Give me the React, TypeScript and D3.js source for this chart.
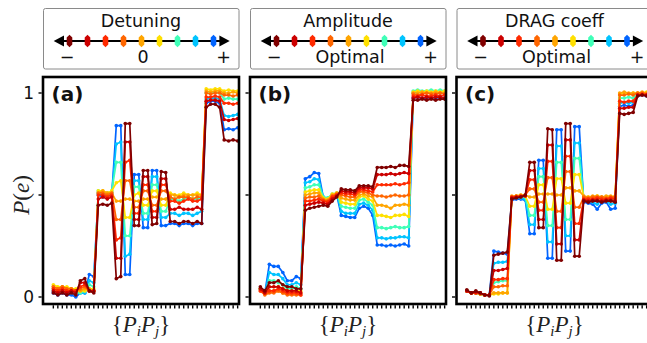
import * as d3 from 'd3';

// series colours, from "−" (dark red) to "+" (blue)
const colors = ['#800000', '#cc0000', '#ff2a00', '#ff6600', '#ffa500', '#ffe000', '#40ffb8', '#00c4ff', '#0064ff'];

// Detuning sweep, 42 pulse pairs, one row per colour
const detuning: number[][] = [
  [0.02, 0.01, 0.02, 0.01, 0.02, 0.01, 0.08, 0.09, 0.03, 0.02, 0.45, 0.455, 0.45, 0.46, 0.09, 0.10, 0.85, 0.85, 0.35, 0.35, 0.62, 0.62, 0.355, 0.36, 0.615, 0.61, 0.37, 0.37, 0.36, 0.37, 0.37, 0.36, 0.37, 0.36, 0.93, 0.945, 0.945, 0.93, 0.77, 0.765, 0.77, 0.765],
  [0.03, 0.02, 0.03, 0.02, 0.03, 0.02, 0.07, 0.07, 0.03, 0.03, 0.48, 0.49, 0.48, 0.49, 0.19, 0.19, 0.76, 0.76, 0.38, 0.38, 0.59, 0.59, 0.39, 0.39, 0.58, 0.58, 0.43, 0.43, 0.44, 0.43, 0.43, 0.43, 0.44, 0.43, 0.96, 0.965, 0.965, 0.96, 0.87, 0.865, 0.87, 0.875],
  [0.04, 0.03, 0.04, 0.03, 0.03, 0.03, 0.05, 0.06, 0.03, 0.03, 0.50, 0.50, 0.49, 0.50, 0.28, 0.29, 0.66, 0.67, 0.41, 0.41, 0.55, 0.55, 0.42, 0.42, 0.55, 0.55, 0.47, 0.47, 0.46, 0.47, 0.48, 0.47, 0.47, 0.48, 0.98, 0.98, 0.985, 0.98, 0.95, 0.95, 0.945, 0.95],
  [0.05, 0.04, 0.05, 0.04, 0.04, 0.03, 0.04, 0.05, 0.03, 0.03, 0.51, 0.51, 0.50, 0.51, 0.38, 0.38, 0.57, 0.57, 0.44, 0.44, 0.52, 0.52, 0.45, 0.45, 0.52, 0.52, 0.49, 0.48, 0.49, 0.49, 0.49, 0.48, 0.49, 0.49, 1.0, 0.995, 1.0, 1.0, 0.99, 0.99, 0.985, 0.99],
  [0.05, 0.04, 0.05, 0.04, 0.04, 0.03, 0.03, 0.04, 0.04, 0.03, 0.51, 0.52, 0.51, 0.51, 0.47, 0.47, 0.48, 0.48, 0.47, 0.47, 0.48, 0.48, 0.49, 0.49, 0.48, 0.48, 0.50, 0.50, 0.49, 0.50, 0.50, 0.50, 0.50, 0.50, 1.01, 1.005, 1.01, 1.01, 1.0, 1.0, 1.005, 1.0],
  [0.06, 0.05, 0.05, 0.05, 0.04, 0.04, 0.03, 0.03, 0.04, 0.04, 0.52, 0.52, 0.51, 0.52, 0.56, 0.57, 0.39, 0.39, 0.50, 0.51, 0.45, 0.45, 0.52, 0.52, 0.45, 0.45, 0.51, 0.50, 0.50, 0.51, 0.50, 0.50, 0.51, 0.50, 1.02, 1.015, 1.02, 1.02, 1.01, 1.015, 1.01, 1.01],
  [0.04, 0.03, 0.04, 0.03, 0.03, 0.02, 0.02, 0.03, 0.06, 0.05, 0.52, 0.51, 0.51, 0.52, 0.66, 0.66, 0.30, 0.30, 0.54, 0.54, 0.41, 0.41, 0.55, 0.55, 0.42, 0.42, 0.48, 0.48, 0.47, 0.48, 0.49, 0.48, 0.48, 0.49, 1.0, 1.0, 1.005, 1.0, 0.97, 0.975, 0.97, 0.97],
  [0.03, 0.02, 0.03, 0.02, 0.02, 0.02, 0.02, 0.02, 0.08, 0.07, 0.51, 0.50, 0.50, 0.51, 0.75, 0.76, 0.20, 0.21, 0.57, 0.57, 0.38, 0.38, 0.59, 0.59, 0.39, 0.39, 0.41, 0.41, 0.40, 0.41, 0.41, 0.40, 0.41, 0.42, 0.97, 0.975, 0.975, 0.97, 0.89, 0.885, 0.89, 0.895],
  [0.02, 0.01, 0.02, 0.01, 0.01, 0.00, 0.02, 0.02, 0.11, 0.10, 0.50, 0.49, 0.50, 0.50, 0.84, 0.84, 0.11, 0.11, 0.60, 0.60, 0.34, 0.34, 0.62, 0.62, 0.35, 0.35, 0.36, 0.36, 0.35, 0.36, 0.36, 0.35, 0.36, 0.36, 0.95, 0.96, 0.96, 0.95, 0.82, 0.825, 0.82, 0.83],
];

// Amplitude sweep
const amplitude: number[][] = [
  [0.05, 0.03, 0.07, 0.07, 0.08, 0.06, 0.05, 0.05, 0.04, 0.04, 0.425, 0.435, 0.44, 0.445, 0.45, 0.445, 0.47, 0.49, 0.53, 0.525, 0.525, 0.52, 0.545, 0.545, 0.545, 0.54, 0.635, 0.635, 0.635, 0.64, 0.635, 0.645, 0.645, 0.64, 0.965, 0.965, 0.97, 0.965, 0.97, 0.965, 0.97, 0.97],
  [0.04, 0.02, 0.05, 0.05, 0.05, 0.04, 0.03, 0.03, 0.03, 0.02, 0.45, 0.455, 0.46, 0.465, 0.46, 0.455, 0.48, 0.495, 0.52, 0.515, 0.515, 0.51, 0.535, 0.535, 0.535, 0.53, 0.60, 0.60, 0.60, 0.605, 0.60, 0.605, 0.61, 0.605, 0.975, 0.98, 0.975, 0.98, 0.975, 0.98, 0.98, 0.975],
  [0.03, 0.02, 0.03, 0.03, 0.04, 0.03, 0.02, 0.02, 0.02, 0.01, 0.47, 0.47, 0.475, 0.48, 0.47, 0.465, 0.49, 0.50, 0.51, 0.505, 0.505, 0.50, 0.525, 0.525, 0.52, 0.515, 0.55, 0.55, 0.55, 0.55, 0.555, 0.55, 0.555, 0.56, 0.985, 0.985, 0.99, 0.985, 0.985, 0.99, 0.985, 0.99],
  [0.03, 0.01, 0.02, 0.02, 0.03, 0.02, 0.01, 0.01, 0.01, 0.01, 0.485, 0.49, 0.49, 0.495, 0.475, 0.47, 0.495, 0.505, 0.50, 0.495, 0.49, 0.49, 0.515, 0.515, 0.51, 0.50, 0.495, 0.495, 0.49, 0.495, 0.50, 0.495, 0.495, 0.50, 0.995, 0.99, 0.995, 1.0, 0.995, 0.995, 1.0, 0.995],
  [0.04, 0.02, 0.03, 0.03, 0.03, 0.02, 0.02, 0.02, 0.02, 0.02, 0.50, 0.505, 0.51, 0.51, 0.48, 0.475, 0.50, 0.51, 0.485, 0.48, 0.475, 0.475, 0.50, 0.505, 0.495, 0.49, 0.45, 0.45, 0.445, 0.435, 0.45, 0.45, 0.455, 0.45, 1.0, 1.0, 1.005, 1.0, 1.0, 1.005, 1.0, 1.0],
  [0.04, 0.02, 0.05, 0.05, 0.05, 0.04, 0.03, 0.03, 0.03, 0.03, 0.515, 0.52, 0.525, 0.525, 0.485, 0.48, 0.505, 0.51, 0.465, 0.46, 0.455, 0.455, 0.49, 0.495, 0.48, 0.47, 0.40, 0.40, 0.395, 0.39, 0.40, 0.40, 0.405, 0.395, 1.005, 1.01, 1.005, 1.01, 1.005, 1.01, 1.005, 1.01],
  [0.04, 0.02, 0.08, 0.08, 0.07, 0.06, 0.04, 0.04, 0.05, 0.04, 0.535, 0.54, 0.55, 0.55, 0.49, 0.485, 0.505, 0.51, 0.445, 0.44, 0.435, 0.435, 0.475, 0.48, 0.465, 0.45, 0.34, 0.34, 0.335, 0.34, 0.345, 0.34, 0.34, 0.345, 1.01, 1.015, 1.01, 1.01, 1.015, 1.01, 1.015, 1.01],
  [0.04, 0.02, 0.12, 0.11, 0.11, 0.09, 0.06, 0.06, 0.07, 0.06, 0.56, 0.565, 0.58, 0.575, 0.49, 0.485, 0.50, 0.505, 0.42, 0.41, 0.41, 0.41, 0.455, 0.46, 0.45, 0.425, 0.29, 0.29, 0.285, 0.29, 0.29, 0.295, 0.295, 0.29, 1.0, 1.005, 1.0, 1.005, 1.0, 1.005, 1.0, 1.0],
  [0.04, 0.02, 0.16, 0.15, 0.15, 0.12, 0.08, 0.08, 0.10, 0.09, 0.58, 0.59, 0.61, 0.605, 0.49, 0.48, 0.495, 0.50, 0.40, 0.395, 0.39, 0.39, 0.435, 0.445, 0.435, 0.40, 0.255, 0.255, 0.25, 0.255, 0.25, 0.255, 0.26, 0.25, 0.975, 0.98, 0.975, 0.975, 0.98, 0.975, 0.98, 0.975],
];

// DRAG coefficient sweep
const dragCoeff: number[][] = [
  [0.035, 0.02, 0.03, 0.02, 0.01, 0.005, 0.205, 0.21, 0.215, 0.22, 0.48, 0.485, 0.49, 0.50, 0.66, 0.66, 0.34, 0.34, 0.825, 0.82, 0.18, 0.18, 0.85, 0.85, 0.20, 0.20, 0.47, 0.465, 0.47, 0.47, 0.465, 0.47, 0.47, 0.465, 0.90, 0.895, 0.90, 0.905, 0.985, 0.99, 0.985, 0.99],
  [0.03, 0.02, 0.025, 0.02, 0.01, 0.01, 0.13, 0.13, 0.135, 0.14, 0.485, 0.49, 0.49, 0.495, 0.62, 0.62, 0.38, 0.38, 0.745, 0.745, 0.26, 0.26, 0.77, 0.77, 0.28, 0.28, 0.475, 0.47, 0.475, 0.475, 0.47, 0.475, 0.475, 0.47, 0.925, 0.925, 0.93, 0.93, 0.99, 0.99, 0.99, 0.995],
  [0.03, 0.02, 0.02, 0.02, 0.01, 0.01, 0.085, 0.085, 0.09, 0.09, 0.49, 0.49, 0.495, 0.495, 0.575, 0.575, 0.425, 0.425, 0.665, 0.665, 0.34, 0.34, 0.69, 0.69, 0.36, 0.36, 0.48, 0.48, 0.48, 0.485, 0.48, 0.48, 0.485, 0.48, 0.96, 0.955, 0.96, 0.96, 0.99, 0.995, 0.99, 0.995],
  [0.03, 0.02, 0.02, 0.015, 0.01, 0.01, 0.05, 0.05, 0.055, 0.055, 0.49, 0.495, 0.495, 0.50, 0.53, 0.53, 0.465, 0.465, 0.585, 0.585, 0.42, 0.42, 0.615, 0.615, 0.44, 0.44, 0.49, 0.485, 0.49, 0.49, 0.49, 0.485, 0.49, 0.49, 0.99, 0.99, 0.995, 0.99, 1.0, 1.0, 0.995, 1.0],
  [0.03, 0.02, 0.02, 0.015, 0.01, 0.01, 0.02, 0.02, 0.02, 0.02, 0.495, 0.495, 0.50, 0.50, 0.49, 0.49, 0.505, 0.505, 0.505, 0.505, 0.50, 0.50, 0.535, 0.535, 0.52, 0.52, 0.495, 0.49, 0.495, 0.495, 0.49, 0.495, 0.495, 0.49, 1.0, 1.005, 1.0, 1.0, 1.0, 1.005, 1.0, 1.005],
  [0.03, 0.02, 0.02, 0.015, 0.01, 0.01, 0.015, 0.015, 0.02, 0.02, 0.49, 0.495, 0.50, 0.495, 0.445, 0.445, 0.55, 0.55, 0.43, 0.43, 0.58, 0.58, 0.46, 0.46, 0.60, 0.60, 0.49, 0.49, 0.49, 0.495, 0.49, 0.49, 0.49, 0.495, 0.995, 1.0, 0.995, 1.0, 1.0, 1.0, 1.005, 1.0],
  [0.03, 0.02, 0.02, 0.015, 0.01, 0.01, 0.07, 0.075, 0.08, 0.08, 0.485, 0.49, 0.49, 0.49, 0.40, 0.40, 0.59, 0.59, 0.35, 0.35, 0.66, 0.66, 0.38, 0.38, 0.68, 0.68, 0.485, 0.48, 0.475, 0.48, 0.485, 0.48, 0.475, 0.48, 0.975, 0.975, 0.98, 0.975, 0.995, 0.995, 1.0, 0.995],
  [0.03, 0.02, 0.02, 0.015, 0.01, 0.01, 0.165, 0.17, 0.17, 0.175, 0.48, 0.485, 0.485, 0.48, 0.355, 0.355, 0.63, 0.63, 0.27, 0.27, 0.74, 0.74, 0.30, 0.30, 0.755, 0.755, 0.475, 0.47, 0.465, 0.455, 0.475, 0.47, 0.455, 0.46, 0.95, 0.955, 0.95, 0.955, 0.99, 0.995, 0.99, 0.995],
  [0.03, 0.02, 0.02, 0.015, 0.01, 0.01, 0.225, 0.22, 0.215, 0.21, 0.475, 0.48, 0.48, 0.475, 0.31, 0.31, 0.67, 0.67, 0.19, 0.19, 0.82, 0.82, 0.225, 0.225, 0.835, 0.835, 0.465, 0.46, 0.455, 0.43, 0.46, 0.465, 0.43, 0.435, 0.935, 0.94, 0.935, 0.94, 0.985, 0.99, 0.985, 0.99],
];

const panelLetters = ['(a)', '(b)', '(c)'];
const legendTitles = ['Detuning', 'Amplitude', 'DRAG coeff'];
const legendMid = ['0', 'Optimal', 'Optimal'];
const yTicks = [0, 0.5, 1];
const yTickLabels = ['0', '', '1'];

const W = 647;
const H = 343;
const panelLeft = [43, 250, 456.5];
const panelW = 196;
const top = 77;
const bottom = 304;
const sans = '"DejaVu Sans", sans-serif';
const serif = '"Liberation Serif", "DejaVu Serif", serif';

const y = d3.scaleLinear().domain([0, 1]).range([297, 93]);

function Legend({ left, title, mid }: { left: number; title: string; mid: string }) {
  const ly = 41;
  const mx = d3.scaleLinear().domain([0, colors.length - 1]).range([left + 26.5, left + 170.5]);
  const hex = 'M0,-6.2L2.8,-3.6L2.8,3.6L0,6.2L-2.8,3.6L-2.8,-3.6Z';
  return (
    <g>
      <rect x={left + 0.5} y={8.5} width={panelW - 0.5} height={60.5} rx={2} fill="white" stroke="#8a8a8a" strokeWidth={1} />
      <text x={left + 98} y={26.5} textAnchor="middle" fontFamily={sans} fontSize={17.5} fill="#111">{title}</text>
      <line x1={left + 17} x2={left + 180} y1={ly} y2={ly} stroke="black" strokeWidth={2} />
      <path d={`M${left + 10.7},${ly}L${left + 21},${ly - 5.4}L${left + 21},${ly + 5.4}Z`} fill="black" />
      <path d={`M${left + 186.7},${ly}L${left + 176.4},${ly - 5.4}L${left + 176.4},${ly + 5.4}Z`} fill="black" />
      {colors.map((c, k) => (
        <path key={k} d={hex} transform={`translate(${mx(k)},${ly})`} fill={c} />
      ))}
      <text x={left + 24} y={63} textAnchor="middle" fontFamily={sans} fontSize={17.5} fill="#111">−</text>
      <text x={left + 100} y={63} textAnchor="middle" fontFamily={sans} fontSize={17.5} fill="#111">{mid}</text>
      <text x={left + 180.5} y={63} textAnchor="middle" fontFamily={sans} fontSize={17.5} fill="#111">+</text>
    </g>
  );
}

function Panel({ idx, series }: { idx: number; series: number[][] }) {
  const left = panelLeft[idx];
  const n = series[0].length;
  const x = d3.scaleLinear().domain([-2.3, n - 0.7]).range([left, left + panelW]);
  const line = d3.line<number>().x((_, i) => x(i)).y(d => y(d));
  const clipId = `clip-${idx}`;
  const order = d3.range(series.length).reverse();
  return (
    <g>
      <defs>
        <clipPath id={clipId}>
          <rect x={left} y={top} width={panelW} height={bottom - top} />
        </clipPath>
      </defs>
      <g clipPath={`url(#${clipId})`}>
        {order.map(k => (
          <g key={k}>
            <path d={line(series[k]) ?? ''} fill="none" stroke={colors[k]} strokeWidth={1.7} strokeLinejoin="round" />
            {series[k].map((v, i) => (
              <circle key={i} cx={x(i)} cy={y(v)} r={1.8} fill={colors[k]} />
            ))}
          </g>
        ))}
      </g>
      <rect x={left} y={top} width={panelW} height={bottom - top} fill="none" stroke="black" strokeWidth={2.6} />
      {d3.range(n).map(i => (
        <line key={i} x1={x(i)} x2={x(i)} y1={bottom + 1.3} y2={bottom + 4.5} stroke="black" strokeWidth={1.4} />
      ))}
      {yTicks.map((t, j) => (
        <g key={j}>
          <line x1={left - 4.5} x2={left - 1.3} y1={y(t)} y2={y(t)} stroke="black" strokeWidth={1.4} />
          {idx === 0 && yTickLabels[j] && (
            <text x={left - 9} y={y(t) + 6} textAnchor="end" fontFamily={sans} fontSize={17} fill="#111">{yTickLabels[j]}</text>
          )}
        </g>
      ))}
      <text x={left + 8.5} y={101} fontFamily={sans} fontWeight="bold" fontSize={20} fill="#111">{panelLetters[idx]}</text>
      <text x={left + panelW / 2} y={332} textAnchor="middle" fontFamily={serif} fontSize={23} fill="#222">
        {'{'}<tspan fontStyle="italic">P</tspan><tspan fontStyle="italic" fontSize={15} dy={4}>i</tspan><tspan fontStyle="italic" dy={-4}>P</tspan><tspan fontStyle="italic" fontSize={15} dy={4}>j</tspan><tspan dy={-4}>{'}'}</tspan>
      </text>
    </g>
  );
}

export default function App() {
  const sets = [detuning, amplitude, dragCoeff];
  return (
    <div>
      <style>{'body{margin:0}'}</style>
      <svg width={W} height={H} style={{ display: 'block', background: 'white' }}>
        {sets.map((s, i) => (
          <g key={i}>
            <Legend left={panelLeft[i]} title={legendTitles[i]} mid={legendMid[i]} />
            <Panel idx={i} series={s} />
          </g>
        ))}
        <text transform="translate(29,195) rotate(-90)" textAnchor="middle" fontFamily={serif} fontSize={23} fill="#222">
          <tspan fontStyle="italic">P</tspan>(<tspan fontStyle="italic">e</tspan>)
        </text>
      </svg>
    </div>
  );
}
